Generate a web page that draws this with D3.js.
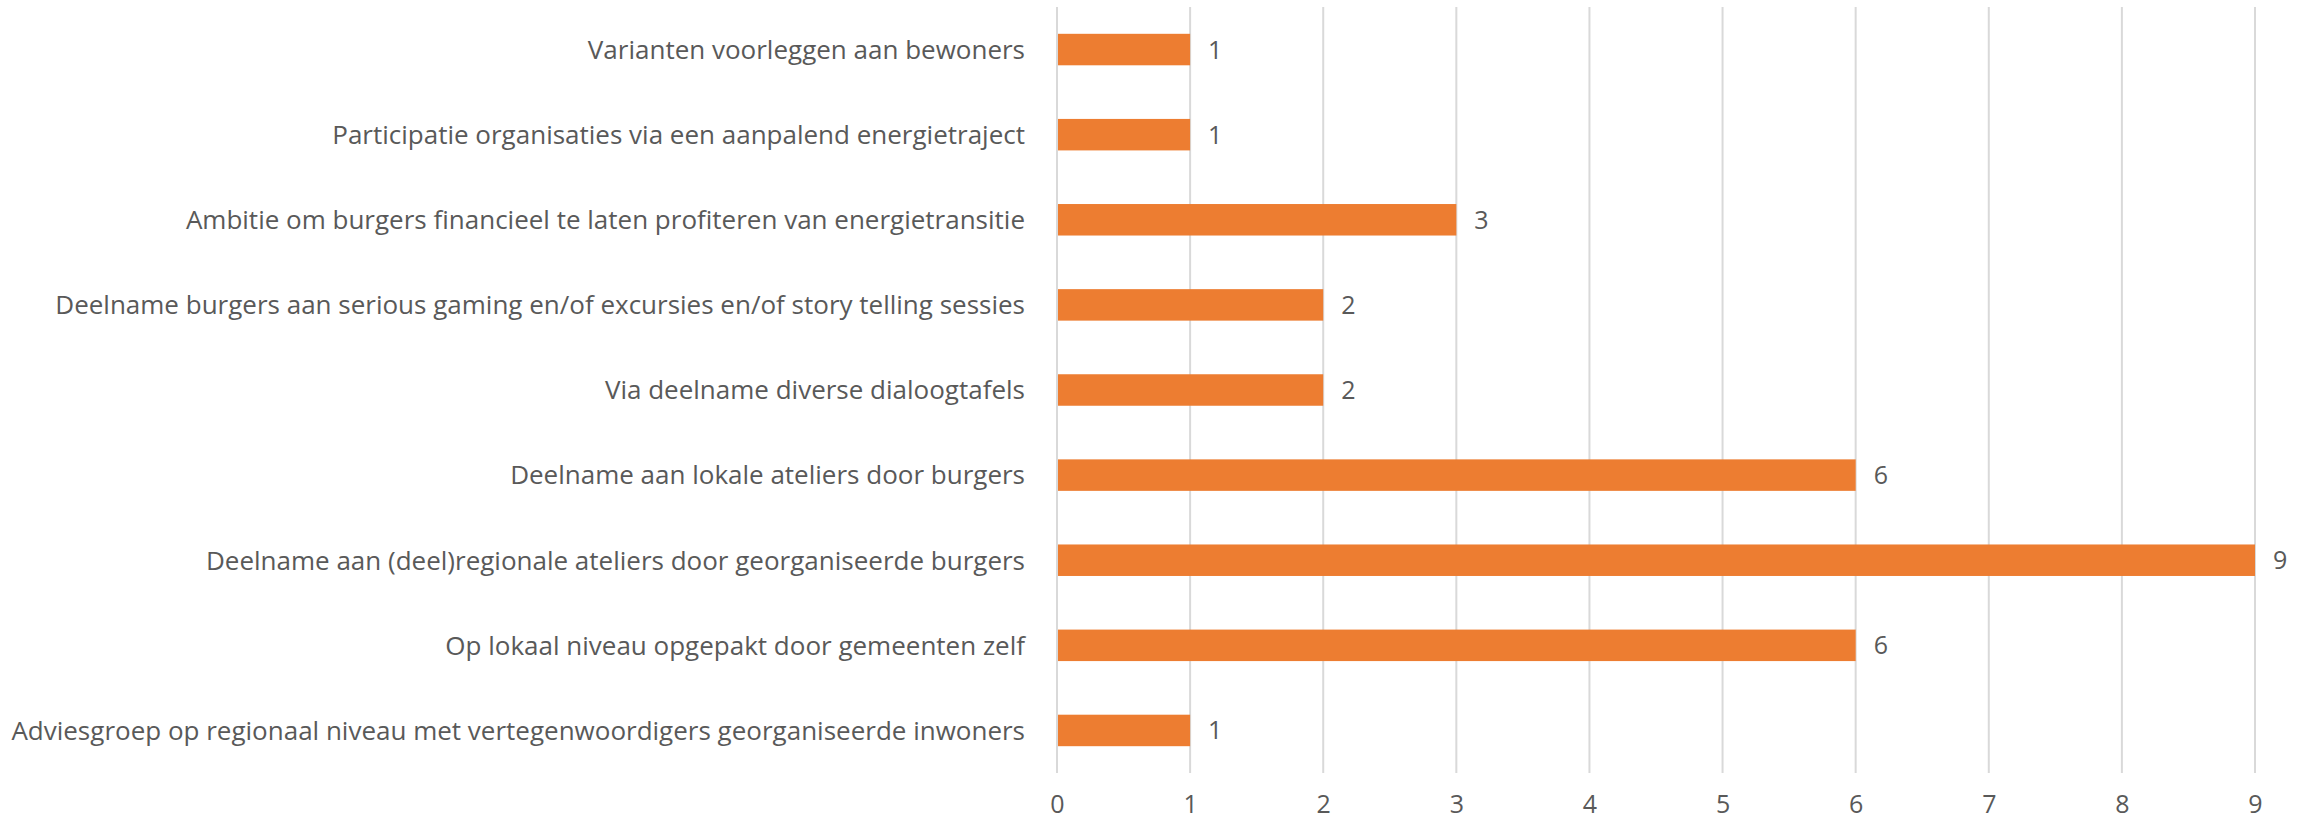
<!DOCTYPE html>
<html>
<head>
<meta charset="utf-8">
<script src="https://cdn.jsdelivr.net/npm/d3@7"></script>
<style>
  body { margin: 0; background: #fff; }
  svg text { font-family: "Open Sans", sans-serif; fill: #595959; }
</style>
</head>
<body>
<div id="chart"></div>
<script>
// categories, top to bottom
const categories = [
  "Varianten voorleggen aan bewoners",
  "Participatie organisaties via een aanpalend energietraject",
  "Ambitie om burgers financieel te laten profiteren van energietransitie",
  "Deelname burgers aan serious gaming en/of excursies  en/of story telling sessies",
  "Via deelname diverse dialoogtafels",
  "Deelname aan lokale ateliers door burgers",
  "Deelname aan (deel)regionale ateliers door georganiseerde burgers",
  "Op lokaal niveau opgepakt door gemeenten zelf",
  "Adviesgroep op regionaal niveau met vertegenwoordigers georganiseerde inwoners"
];
const values = [1, 1, 3, 2, 2, 6, 9, 6, 1];
const xTicks = [0, 1, 2, 3, 4, 5, 6, 7, 8, 9];

const width = 2303, height = 821;
const margin = {top: 7, right: 48, bottom: 48, left: 1057};

const svg = d3.select("#chart").append("svg")
  .attr("width", width).attr("height", height);

const x = d3.scaleLinear().domain([0, 9]).range([margin.left, width - margin.right]);
const y = d3.scaleBand().domain(categories)
  .range([margin.top, height - margin.bottom])
  .paddingInner(0.63).paddingOuter(0.315);

// gridlines
svg.append("g").selectAll("line").data(xTicks).join("line")
  .attr("x1", d => x(d)).attr("x2", d => x(d))
  .attr("y1", margin.top).attr("y2", height - margin.bottom)
  .attr("stroke", "#d9d9d9").attr("stroke-width", 2);

// bars
svg.append("g").selectAll("rect").data(values).join("rect")
  .attr("x", x(0) + 1)
  .attr("y", (d, i) => y(categories[i]))
  .attr("width", d => x(d) - x(0) - 1)
  .attr("height", y.bandwidth())
  .attr("fill", "#ed7d31");

// value labels
svg.append("g").selectAll("text").data(values).join("text")
  .attr("x", d => x(d) + 18)
  .attr("y", (d, i) => y(categories[i]) + y.bandwidth() / 2)
  .attr("dy", "0.36em")
  .attr("font-size", 25)
  .text(d => d);

// category labels
svg.append("g").selectAll("text").data(categories).join("text")
  .attr("x", margin.left - 32)
  .attr("y", d => y(d) + y.bandwidth() / 2)
  .attr("dy", "0.36em")
  .attr("text-anchor", "end")
  .attr("font-size", 26)
  .text(d => d);

// x axis labels
const xAxis = svg.append("g")
  .attr("transform", `translate(0,${height - margin.bottom})`)
  .call(d3.axisBottom(x).tickValues(xTicks).tickSize(0).tickPadding(22));
xAxis.select(".domain").remove();
xAxis.selectAll("text").attr("font-size", 25).attr("fill", "#595959")
  .style("font-family", "'Open Sans', sans-serif");
</script>
</body>
</html>
